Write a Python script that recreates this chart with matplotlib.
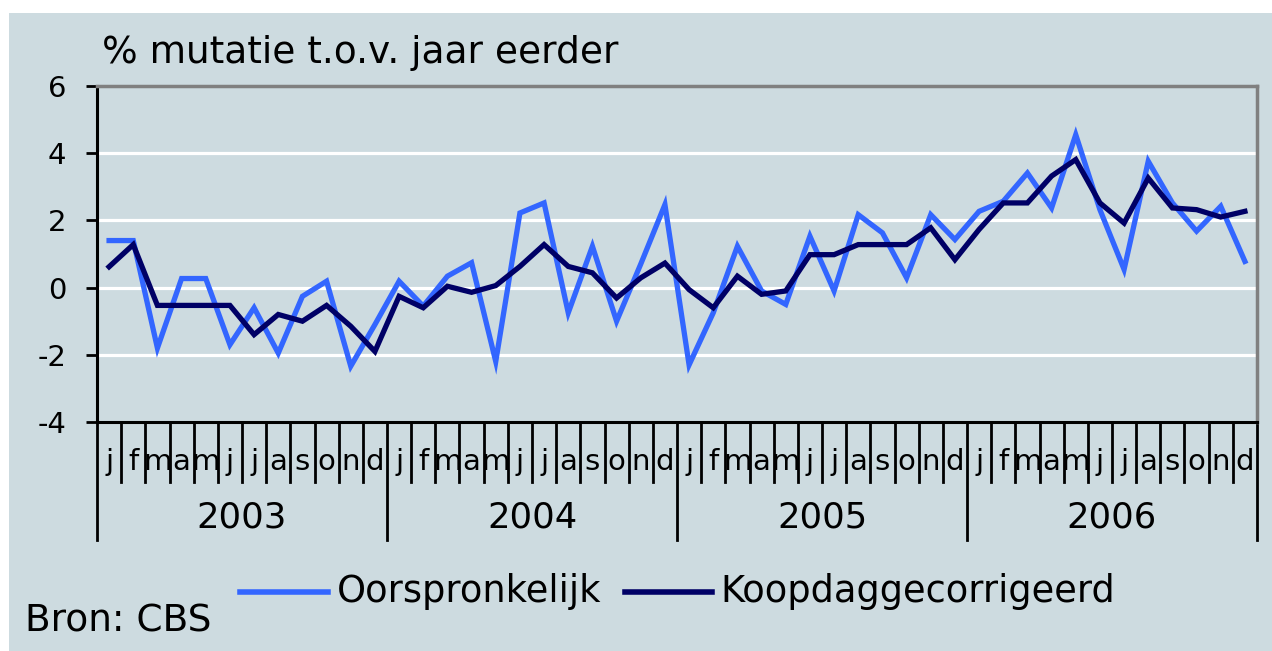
import matplotlib.pyplot as plt
import matplotlib.transforms as mtransforms
from matplotlib.lines import Line2D
from matplotlib.patches import Rectangle

plt.rcParams["axes.unicode_minus"] = False

years = ["2003", "2004", "2005", "2006"]
month_labels = ["j", "f", "m", "a", "m", "j", "j", "a", "s", "o", "n", "d"]

# % mutatie t.o.v. jaar eerder, jan 2003 - dec 2006
oorspronkelijk = [1.4, 1.4, -1.8, 0.27, 0.27, -1.7, -0.6, -1.95, -0.26, 0.19, -2.34, -1.1,
                  0.19, -0.55, 0.34, 0.74, -2.2, 2.22, 2.52, -0.75, 1.23, -1.0, 0.7, 2.47,
                  -2.3, -0.75, 1.23, -0.1, -0.5, 1.53, -0.1, 2.17, 1.63, 0.29, 2.17, 1.43,
                  2.27, 2.57, 3.41, 2.37, 4.55, 2.32, 0.54, 3.76, 2.52, 1.68, 2.42, 0.78]
koopdag = [0.62, 1.28, -0.53, -0.53, -0.53, -0.53, -1.4, -0.8, -1.0, -0.53, -1.15, -1.9,
           -0.26, -0.6, 0.04, -0.14, 0.06, 0.63, 1.28, 0.63, 0.44, -0.31, 0.29, 0.73,
           -0.06, -0.6, 0.34, -0.2, -0.1, 0.98, 0.98, 1.28, 1.28, 1.28, 1.78, 0.83,
           1.73, 2.52, 2.52, 3.32, 3.81, 2.52, 1.92, 3.26, 2.37, 2.32, 2.1, 2.27]
yticks = [-4, -2, 0, 2, 4, 6]
gridvals = [-2, 0, 2, 4]

bg = "#cddbe0"
light = "#3366ff"
dark = "#000066"

W, H = 1272, 651
fig = plt.figure(figsize=(W / 100, H / 100), dpi=100)
fig.patch.set_facecolor("white")
fig.patches.append(Rectangle((9 / W, 0), 1 - 9 / W, 1 - 13 / H, transform=fig.transFigure,
                             facecolor=bg, edgecolor="none", zorder=-10))

ax = fig.add_axes([97 / W, 1 - 422 / H, 1160 / W, 336 / H])
ax.set_facecolor(bg)

n = len(oorspronkelijk)
x = list(range(n))

for g in gridvals:
    ax.axhline(g, color="white", lw=2.3, zorder=1)

ax.plot(x, oorspronkelijk, color=light, lw=3.8, zorder=3, solid_joinstyle="miter")
ax.plot(x, koopdag, color=dark, lw=3.8, zorder=4, solid_joinstyle="miter")

ax.set_xlim(-0.5, n - 0.5)
ax.set_ylim(-4, 6)
ax.set_yticks(yticks)
ax.set_xticks([])
ax.tick_params(axis="y", length=8, width=2, pad=14, labelsize=21, color="black")

for s in ["left", "bottom"]:
    ax.spines[s].set_color("black")
    ax.spines[s].set_linewidth(2.2)
for s in ["top", "right"]:
    ax.spines[s].set_color("#808080")
    ax.spines[s].set_linewidth(2.5)

trans = mtransforms.blended_transform_factory(ax.transData, ax.transAxes)
for b in range(n + 1):
    bottom = -0.351 if b % 12 == 0 else -0.1786
    ax.plot([b - 0.5, b - 0.5], [0, bottom], transform=trans, clip_on=False,
            color="black", lw=2)

for i in range(n):
    ax.text(i, -0.118, month_labels[i % 12], transform=trans, ha="center", va="center",
            fontsize=21)

for k, yr in enumerate(years):
    ax.text(k * 12 + 5.5, -0.285, yr, transform=trans, ha="center", va="center", fontsize=25.5)

fig.text(102 / W, 1 - 53 / H, "% mutatie t.o.v. jaar eerder", ha="left", va="center",
         fontsize=27)

# legend
fig.lines.append(Line2D([240 / W, 328 / W], [1 - 592 / H] * 2, transform=fig.transFigure,
                        color=light, lw=4))
fig.text(337 / W, 1 - 592 / H, "Oorspronkelijk", ha="left", va="center", fontsize=26.5)
fig.lines.append(Line2D([625 / W, 712 / W], [1 - 592 / H] * 2, transform=fig.transFigure,
                        color=dark, lw=4))
fig.text(720 / W, 1 - 592 / H, "Koopdaggecorrigeerd", ha="left", va="center", fontsize=26.5)

fig.text(25 / W, 1 - 622 / H, "Bron: CBS", ha="left", va="center", fontsize=27)

fig.savefig("out.png", dpi=100, facecolor=fig.get_facecolor())
